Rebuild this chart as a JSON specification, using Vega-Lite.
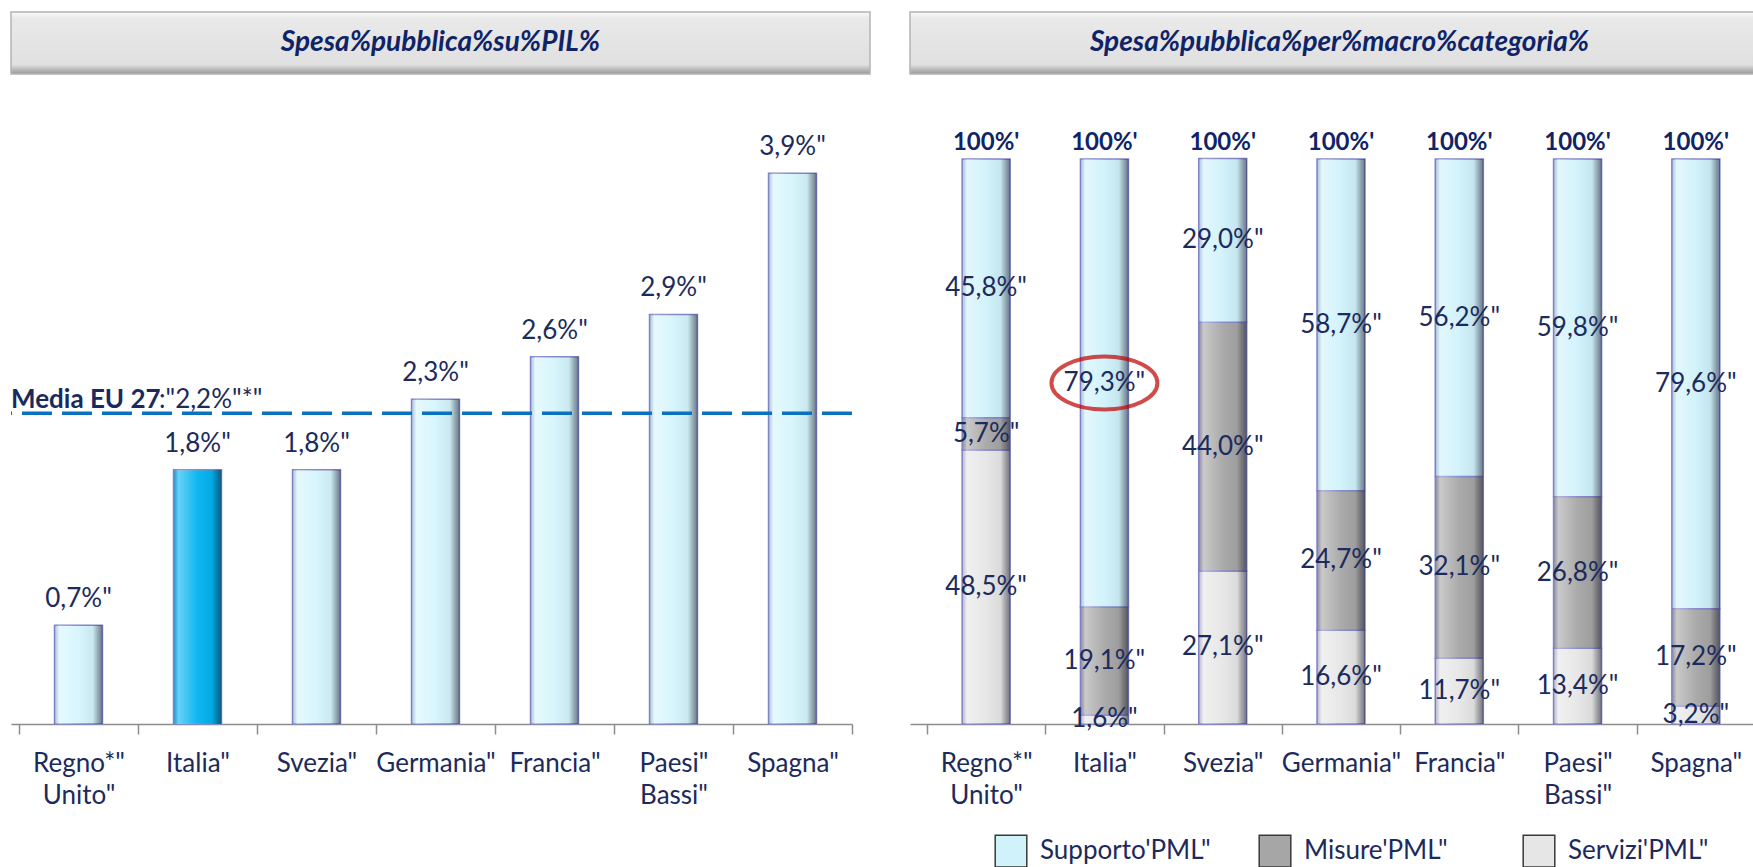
{
  "$schema": "https://vega.github.io/schema/vega-lite/v6.json",
  "background": "white",
  "padding": {"left": 9, "top": 11, "right": 0, "bottom": 0},
  "bounds": "flush",
  "spacing": 147,
  "config": {
    "view": {"stroke": null},
    "font": "Lato",
    "text": {"font": "Lato"},
    "axis": {"labelFont": "Lato"},
    "legend": {"labelFont": "Lato"}
  },
  "vconcat": [
    {
      "bounds": "flush",
      "spacing": 40,
      "hconcat": [
        {
          "width": 859,
          "height": 62,
          "data": {"values": [{"t": "Spesa%pubblica%su%PIL%"}]},
          "layer": [
            {
              "mark": {"type": "rect", "fill": {"gradient": "linear", "x1": 0, "y1": 0, "x2": 0, "y2": 1, "stops": [{"offset": 0, "color": "#f8f8f8"}, {"offset": 0.12, "color": "#e9e9e9"}, {"offset": 0.85, "color": "#e0e0e0"}, {"offset": 1, "color": "#989898"}]}, "stroke": "#b4b4b4", "strokeWidth": 1.5},
              "encoding": {}
            },
            {
              "mark": {"type": "text", "fontSize": 28, "fontStyle": "italic", "fontWeight": "bold", "color": "#0f2467", "baseline": "middle"},
              "encoding": {"text": {"field": "t", "type": "nominal"}}
            }
          ]
        },
        {
          "width": 859,
          "height": 62,
          "data": {"values": [{"t": "Spesa%pubblica%per%macro%categoria%"}]},
          "layer": [
            {
              "mark": {"type": "rect", "fill": {"gradient": "linear", "x1": 0, "y1": 0, "x2": 0, "y2": 1, "stops": [{"offset": 0, "color": "#f8f8f8"}, {"offset": 0.12, "color": "#e9e9e9"}, {"offset": 0.85, "color": "#e0e0e0"}, {"offset": 1, "color": "#989898"}]}, "stroke": "#b4b4b4", "strokeWidth": 1.5},
              "encoding": {}
            },
            {
              "mark": {"type": "text", "fontSize": 28, "fontStyle": "italic", "fontWeight": "bold", "color": "#0f2467", "baseline": "middle"},
              "encoding": {"text": {"field": "t", "type": "nominal"}}
            }
          ]
        }
      ]
    },
    {
      "bounds": "flush",
      "spacing": 58,
      "resolve": {"legend": {"color": "independent"}},
      "hconcat": [
        {
          "width": 841,
          "height": 565,
          "data": {"values": [
            {"country": "Regno Unito", "value": 0.7, "label": "0,7%\""},
            {"country": "Italia", "value": 1.8, "label": "1,8%\""},
            {"country": "Svezia", "value": 1.8, "label": "1,8%\""},
            {"country": "Germania", "value": 2.3, "label": "2,3%\""},
            {"country": "Francia", "value": 2.6, "label": "2,6%\""},
            {"country": "Paesi Bassi", "value": 2.9, "label": "2,9%\""},
            {"country": "Spagna", "value": 3.9, "label": "3,9%\""}
          ]},
          "layer": [
            {
              "mark": {"type": "bar", "width": {"band": 0.403}, "stroke": "#8487c9", "strokeWidth": 1.5},
              "encoding": {
                "x": {"field": "country", "type": "nominal", "sort": ["Regno Unito", "Italia", "Svezia", "Germania", "Francia", "Paesi Bassi", "Spagna"],
                  "scale": {"paddingInner": 0, "paddingOuter": 0.0336, "align": 1},
                  "axis": {"title": null, "labelAngle": 0, "labelFontSize": 26, "labelColor": "#1c2a5c", "labelPadding": 16, "tickSize": 10, "tickBand": "extent", "tickColor": "#8c8c8c", "tickWidth": 1.5, "domainColor": "#8c8c8c", "domainWidth": 1.5, "grid": false, "labelLineHeight": 32,
                    "labelExpr": "!datum.value ? '' : datum.value == 'Regno Unito' ? ['Regno*\"', 'Unito\"'] : datum.value == 'Paesi Bassi' ? ['Paesi\"', 'Bassi\"'] : datum.value + '\"'"}},
                "y": {"field": "value", "type": "quantitative", "scale": {"domain": [0, 4], "nice": false}, "axis": null},
                "fill": {"condition": {"test": "datum.country === 'Italia'", "value": "#02b3f0"}, "value": "#d5f5fc"}
              }
            },
            {
              "mark": {"type": "bar", "width": {"band": 0.403}, "strokeWidth": 0, "fill": {"gradient": "linear", "x1": 0, "y1": 0, "x2": 1, "y2": 0, "stops": [{"offset": 0, "color": "rgba(90,90,160,0.3)"}, {"offset": 0.1, "color": "rgba(255,255,255,0.4)"}, {"offset": 0.5, "color": "rgba(255,255,255,0.05)"}, {"offset": 0.8, "color": "rgba(0,0,0,0.05)"}, {"offset": 1, "color": "rgba(20,20,50,0.55)"}]}},
              "encoding": {
                "x": {"field": "country", "type": "nominal", "sort": ["Regno Unito", "Italia", "Svezia", "Germania", "Francia", "Paesi Bassi", "Spagna"]},
                "y": {"field": "value", "type": "quantitative"}
              }
            },
            {
              "mark": {"type": "text", "fontSize": 26, "color": "#1c2a5c", "baseline": "alphabetic", "dy": -18},
              "encoding": {
                "x": {"field": "country", "type": "nominal", "sort": ["Regno Unito", "Italia", "Svezia", "Germania", "Francia", "Paesi Bassi", "Spagna"]},
                "y": {"field": "value", "type": "quantitative"},
                "text": {"field": "label", "type": "nominal"}
              }
            },
            {
              "data": {"values": [{"country": "Regno Unito", "mean": 2.2, "t1": "Media EU 27", "t2": ":\"2,2%\"*\""}]},
              "layer": [
                {
                  "mark": {"type": "rule", "strokeDash": [30, 10], "strokeWidth": 3.5, "color": "#0a70c0"},
                  "encoding": {"y": {"field": "mean", "type": "quantitative"}}
                },
                {
                  "mark": {"type": "text", "fontSize": 26, "fontWeight": "bold", "color": "#1a2a5e", "align": "left", "baseline": "alphabetic", "dx": -8, "dy": -5},
                  "encoding": {
                    "x": {"field": "country", "type": "nominal", "bandPosition": 0, "sort": ["Regno Unito", "Italia", "Svezia", "Germania", "Francia", "Paesi Bassi", "Spagna"]},
                    "y": {"field": "mean", "type": "quantitative"},
                    "text": {"field": "t1", "type": "nominal"}
                  }
                },
                {
                  "mark": {"type": "text", "fontSize": 26, "color": "#1c2a5c", "align": "left", "baseline": "alphabetic", "dx": 140, "dy": -5},
                  "encoding": {
                    "x": {"field": "country", "type": "nominal", "bandPosition": 0, "sort": ["Regno Unito", "Italia", "Svezia", "Germania", "Francia", "Paesi Bassi", "Spagna"]},
                    "y": {"field": "mean", "type": "quantitative"},
                    "text": {"field": "t2", "type": "nominal"}
                  }
                }
              ]
            }
          ]
        },
        {
          "width": 845,
          "height": 565,
          "data": {"values": [
            {"country": "Regno Unito", "cat": "Servizi PML", "ord": 1, "value": 48.5, "label": "48,5%\""},
            {"country": "Regno Unito", "cat": "Misure PML", "ord": 2, "value": 5.7, "label": "5,7%\""},
            {"country": "Regno Unito", "cat": "Supporto PML", "ord": 3, "value": 45.8, "label": "45,8%\""},
            {"country": "Italia", "cat": "Servizi PML", "ord": 1, "value": 1.6, "label": "1,6%\""},
            {"country": "Italia", "cat": "Misure PML", "ord": 2, "value": 19.1, "label": "19,1%\""},
            {"country": "Italia", "cat": "Supporto PML", "ord": 3, "value": 79.3, "label": "79,3%\""},
            {"country": "Svezia", "cat": "Servizi PML", "ord": 1, "value": 27.1, "label": "27,1%\""},
            {"country": "Svezia", "cat": "Misure PML", "ord": 2, "value": 44.0, "label": "44,0%\""},
            {"country": "Svezia", "cat": "Supporto PML", "ord": 3, "value": 29.0, "label": "29,0%\""},
            {"country": "Germania", "cat": "Servizi PML", "ord": 1, "value": 16.6, "label": "16,6%\""},
            {"country": "Germania", "cat": "Misure PML", "ord": 2, "value": 24.7, "label": "24,7%\""},
            {"country": "Germania", "cat": "Supporto PML", "ord": 3, "value": 58.7, "label": "58,7%\""},
            {"country": "Francia", "cat": "Servizi PML", "ord": 1, "value": 11.7, "label": "11,7%\""},
            {"country": "Francia", "cat": "Misure PML", "ord": 2, "value": 32.1, "label": "32,1%\""},
            {"country": "Francia", "cat": "Supporto PML", "ord": 3, "value": 56.2, "label": "56,2%\""},
            {"country": "Paesi Bassi", "cat": "Servizi PML", "ord": 1, "value": 13.4, "label": "13,4%\""},
            {"country": "Paesi Bassi", "cat": "Misure PML", "ord": 2, "value": 26.8, "label": "26,8%\""},
            {"country": "Paesi Bassi", "cat": "Supporto PML", "ord": 3, "value": 59.8, "label": "59,8%\""},
            {"country": "Spagna", "cat": "Servizi PML", "ord": 1, "value": 3.2, "label": "3,2%\""},
            {"country": "Spagna", "cat": "Misure PML", "ord": 2, "value": 17.2, "label": "17,2%\""},
            {"country": "Spagna", "cat": "Supporto PML", "ord": 3, "value": 79.6, "label": "79,6%\""}
          ]},
          "layer": [
            {
              "mark": {"type": "bar", "width": {"band": 0.406}, "stroke": "#8487c9", "strokeWidth": 1.5},
              "encoding": {
                "x": {"field": "country", "type": "nominal", "sort": ["Regno Unito", "Italia", "Svezia", "Germania", "Francia", "Paesi Bassi", "Spagna"],
                  "scale": {"paddingInner": 0, "paddingOuter": 0.0719, "align": 1},
                  "axis": {"title": null, "labelAngle": 0, "labelFontSize": 26, "labelColor": "#1c2a5c", "labelPadding": 16, "tickSize": 10, "tickBand": "extent", "tickColor": "#8c8c8c", "tickWidth": 1.5, "domainColor": "#8c8c8c", "domainWidth": 1.5, "grid": false, "labelLineHeight": 32,
                    "labelExpr": "!datum.value ? '' : datum.value == 'Regno Unito' ? ['Regno*\"', 'Unito\"'] : datum.value == 'Paesi Bassi' ? ['Paesi\"', 'Bassi\"'] : datum.value + '\"'"}},
                "y": {"field": "value", "type": "quantitative", "stack": "zero", "scale": {"domain": [0, 100], "nice": false}, "axis": null},
                "color": {"field": "cat", "type": "nominal",
                  "scale": {"domain": ["Supporto PML", "Misure PML", "Servizi PML"], "range": ["#d0f2fb", "#a6a6a6", "#e6e6e6"]},
                  "legend": {"title": " ", "titleOrient": "left", "titlePadding": 84, "titleFontSize": 10, "orient": "bottom", "direction": "horizontal", "gridAlign": "all", "symbolType": "square", "symbolSize": 1000, "symbolStrokeColor": "#3a3a3a", "symbolStrokeWidth": 1.5, "labelFontSize": 26, "labelColor": "#1c2a5c", "columnPadding": 45, "labelOffset": 12, "offset": 26, "labelLimit": 400,
                    "labelExpr": "replace(datum.label, ' ', \"'\") + '\"'"}},
                "order": {"field": "ord", "type": "quantitative"}
              }
            },
            {
              "mark": {"type": "bar", "width": {"band": 0.406}, "strokeWidth": 0, "fill": {"gradient": "linear", "x1": 0, "y1": 0, "x2": 1, "y2": 0, "stops": [{"offset": 0, "color": "rgba(90,90,160,0.3)"}, {"offset": 0.1, "color": "rgba(255,255,255,0.4)"}, {"offset": 0.5, "color": "rgba(255,255,255,0.05)"}, {"offset": 0.8, "color": "rgba(0,0,0,0.05)"}, {"offset": 1, "color": "rgba(20,20,50,0.55)"}]}},
              "encoding": {
                "x": {"field": "country", "type": "nominal", "sort": ["Regno Unito", "Italia", "Svezia", "Germania", "Francia", "Paesi Bassi", "Spagna"]},
                "y": {"field": "value", "type": "quantitative", "stack": "zero"},
                "detail": {"field": "cat", "type": "nominal"},
                "order": {"field": "ord", "type": "quantitative"}
              }
            },
            {
              "mark": {"type": "text", "fontSize": 26, "color": "#1c2a5c", "baseline": "middle"},
              "encoding": {
                "x": {"field": "country", "type": "nominal", "sort": ["Regno Unito", "Italia", "Svezia", "Germania", "Francia", "Paesi Bassi", "Spagna"]},
                "y": {"field": "value", "type": "quantitative", "stack": "zero", "bandPosition": 0.5},
                "detail": {"field": "cat", "type": "nominal"},
                "order": {"field": "ord", "type": "quantitative"},
                "text": {"field": "label", "type": "nominal"}
              }
            },
            {
              "mark": {"type": "point", "shape": "M -1 0 A 1 0.5 0 1 0 1 0 A 1 0.5 0 1 0 -1 0 Z", "size": 11236, "filled": false, "color": "#c00000", "strokeWidth": 4},
              "encoding": {
                "x": {"field": "country", "type": "nominal", "sort": ["Regno Unito", "Italia", "Svezia", "Germania", "Francia", "Paesi Bassi", "Spagna"]},
                "y": {"field": "value", "type": "quantitative", "stack": "zero", "bandPosition": 0.5},
                "detail": {"field": "cat", "type": "nominal"},
                "order": {"field": "ord", "type": "quantitative"},
                "strokeOpacity": {"condition": {"test": "datum.country === 'Italia' && datum.cat === 'Supporto PML'", "value": 1}, "value": 0}
              }
            },
            {
              "transform": [{"filter": "datum.cat === 'Supporto PML'"}],
              "mark": {"type": "text", "fontSize": 24, "fontWeight": "bold", "color": "#0f2467", "baseline": "alphabetic", "dy": -9},
              "encoding": {
                "x": {"field": "country", "type": "nominal", "sort": ["Regno Unito", "Italia", "Svezia", "Germania", "Francia", "Paesi Bassi", "Spagna"]},
                "y": {"datum": 100},
                "text": {"value": "100%'"}
              }
            }
          ]
        }
      ]
    }
  ]
}
